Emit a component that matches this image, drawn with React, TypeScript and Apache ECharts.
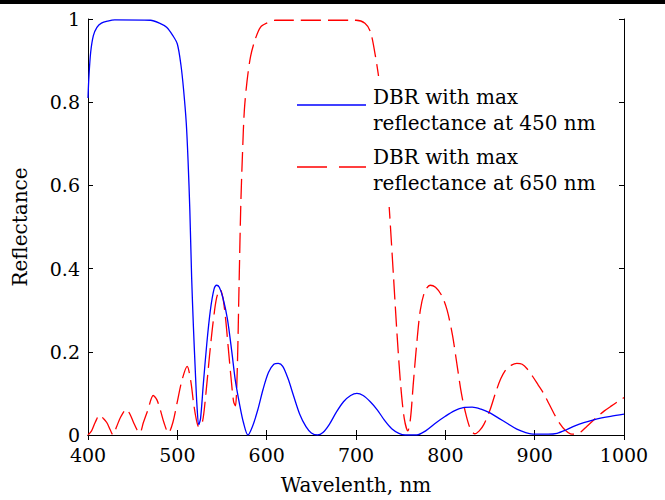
import React, { useEffect, useRef } from "react";
import * as echarts from "echarts";

const blueX = [400, 401, 403, 406, 410, 415, 422, 430, 470, 480, 488, 495, 500, 504, 507, 510, 512, 514, 516, 518, 520, 522, 524, 526, 529, 533, 537, 541, 544, 547, 551, 556, 561, 565, 570, 574, 579, 584, 590, 596, 602, 608, 613, 618, 624, 630, 637, 644, 650, 657, 663, 670, 678, 686, 694, 701, 708, 716, 724, 732, 740, 748, 755, 768, 778, 790, 800, 810, 820, 830, 840, 850, 860, 870, 880, 890, 900, 915, 925, 935, 945, 955, 965, 975, 985, 1000];
const blueY = [0.81, 0.86, 0.92, 0.96, 0.98, 0.99, 0.995, 0.998, 0.997, 0.99, 0.98, 0.96, 0.94, 0.89, 0.83, 0.75, 0.66, 0.54, 0.38, 0.26, 0.16, 0.07, 0.025, 0.04, 0.12, 0.22, 0.3, 0.35, 0.36, 0.355, 0.33, 0.28, 0.2, 0.13, 0.07, 0.03, 0.0, 0.02, 0.06, 0.11, 0.15, 0.17, 0.172, 0.165, 0.135, 0.095, 0.05, 0.02, 0.005, 0.0, 0.006, 0.025, 0.055, 0.08, 0.095, 0.1, 0.095, 0.08, 0.06, 0.035, 0.015, 0.004, 0.0, 0.0, 0.01, 0.03, 0.045, 0.058, 0.066, 0.067, 0.062, 0.053, 0.04, 0.027, 0.014, 0.006, 0.002, 0.002, 0.004, 0.012, 0.022, 0.03, 0.036, 0.041, 0.045, 0.05];

const redX = [400, 404, 408, 413, 417, 421, 425, 428, 432, 437, 443, 447, 451, 455, 458, 462, 467, 473, 477, 481, 485, 490, 495, 500, 505, 511, 515, 518, 521, 524, 528, 532, 536, 540, 544, 548, 551, 554, 557, 560, 563, 565, 567, 569, 571, 573, 575, 578, 582, 587, 593, 600, 610, 700, 710, 716, 721, 726, 730, 734, 738, 742, 746, 750, 754, 758, 761, 764, 768, 772, 777, 783, 789, 796, 802, 808, 813, 818, 823, 828, 833, 838, 843, 850, 856, 862, 868, 874, 880, 886, 892, 898, 904, 910, 916, 922, 928, 934, 940, 946, 952, 958, 964, 970, 978, 986, 993, 1000];
const redY = [0.0, 0.01, 0.03, 0.048, 0.04, 0.03, 0.012, 0.0, 0.02, 0.045, 0.062, 0.05, 0.03, 0.012, 0.005, 0.03, 0.06, 0.095, 0.085, 0.06, 0.03, 0.005, 0.03, 0.08, 0.13, 0.165, 0.13, 0.08, 0.04, 0.02, 0.03, 0.1, 0.19, 0.27, 0.33, 0.35, 0.33, 0.28, 0.21, 0.14, 0.08, 0.07, 0.15, 0.35, 0.55, 0.68, 0.78, 0.85, 0.91, 0.95, 0.98, 0.99, 0.997, 0.997, 0.99, 0.97, 0.92, 0.85, 0.76, 0.65, 0.52, 0.38, 0.24, 0.12, 0.04, 0.01, 0.04, 0.12, 0.22, 0.3, 0.345, 0.36, 0.355, 0.335, 0.3, 0.24, 0.17, 0.1, 0.05, 0.015, 0.003, 0.01, 0.025, 0.06, 0.1, 0.135, 0.158, 0.168, 0.172, 0.17, 0.158, 0.14, 0.12, 0.1, 0.075, 0.05, 0.028, 0.012, 0.003, 0.002, 0.008, 0.02, 0.032, 0.044, 0.058, 0.07, 0.08, 0.09];

const seriesNames = ["DBR with max\nreflectance at 450 nm", "DBR with max\nreflectance at 650 nm"];
const xTitle = "Wavelenth, nm";
const yTitle = "Reflectance";

const FONT = "DejaVu Serif";

export default function App() {
  const ref = useRef<HTMLDivElement>(null);
  useEffect(() => {
    document.body.style.margin = "0";
    const chart = echarts.init(ref.current!, null, { renderer: "svg" });
    const blueData = blueX.map((x, i) => [x, blueY[i]]);
    const redData = redX.map((x, i) => [x, redY[i]]);
    const axisCommon = {
      min: 400,
      max: 1000,
      interval: 100,
      axisLine: { show: true, lineStyle: { color: "#000", width: 1 } },
      axisTick: { show: true, inside: true, length: 5, lineStyle: { color: "#000" } },
      splitLine: { show: false },
    };
    const yCommon = {
      min: 0,
      max: 1,
      interval: 0.2,
      axisLine: { show: true, lineStyle: { color: "#000", width: 1 } },
      axisTick: { show: true, inside: true, length: 5, lineStyle: { color: "#000" } },
      splitLine: { show: false },
    };
    chart.setOption({
      animation: false,
      backgroundColor: "#fff",
      grid: { left: 88, right: 41, top: 19, bottom: 63, containLabel: false },
      xAxis: [
        {
          type: "value",
          position: "bottom",
          ...axisCommon,
          name: xTitle,
          nameLocation: "middle",
          nameGap: 40,
          nameTextStyle: { fontFamily: FONT, fontSize: 20, color: "#000" },
          axisLabel: { fontFamily: FONT, fontSize: 19, color: "#000", margin: 10, formatter: (v: number) => String(v) },
        },
        { type: "value", position: "top", ...axisCommon, axisLabel: { show: false } },
      ],
      yAxis: [
        {
          type: "value",
          position: "left",
          ...yCommon,
          name: yTitle,
          nameLocation: "middle",
          nameGap: 58,
          nameTextStyle: { fontFamily: FONT, fontSize: 20, color: "#000" },
          axisLabel: {
            fontFamily: FONT,
            fontSize: 19,
            color: "#000",
            margin: 8,
            formatter: (v: number) => String(Math.round(v * 10) / 10),
          },
        },
        { type: "value", position: "right", ...yCommon, axisLabel: { show: false } },
      ],
      series: [
        {
          name: seriesNames[0],
          type: "line",
          data: blueData,
          showSymbol: false,
          smooth: 0.3,
          lineStyle: { color: "#0000ff", width: 1.3 },
          z: 3,
        },
        {
          name: seriesNames[1],
          type: "line",
          data: redData,
          showSymbol: false,
          smooth: 0.3,
          lineStyle: { color: "#ff0000", width: 1.3, type: [20, 7] },
          z: 2,
        },
      ],
      graphic: [
        { type: "rect", left: 0, top: 0, shape: { width: 665, height: 4 }, style: { fill: "#000" }, z: 10 },
        { type: "rect", shape: { x: 292, y: 76, width: 318, height: 131 }, style: { fill: "#fff" }, z: 5 },
        { type: "line", shape: { x1: 297, y1: 105, x2: 366, y2: 105 }, style: { stroke: "#0000ff", lineWidth: 1.3 }, z: 6 },
        { type: "line", shape: { x1: 297, y1: 167, x2: 366, y2: 167 }, style: { stroke: "#ff0000", lineWidth: 1.3, lineDash: [30, 12] }, z: 6 },
        {
          type: "text",
          x: 373,
          y: 110,
          z: 6,
          style: { text: seriesNames[0], font: `20px '${FONT}'`, fill: "#000", lineHeight: 26, verticalAlign: "middle" },
        },
        {
          type: "text",
          x: 373,
          y: 170,
          z: 6,
          style: { text: seriesNames[1], font: `20px '${FONT}'`, fill: "#000", lineHeight: 26, verticalAlign: "middle" },
        },
      ],
    });
    return () => chart.dispose();
  }, []);
  return <div ref={ref} style={{ width: 665, height: 500 }} />;
}
